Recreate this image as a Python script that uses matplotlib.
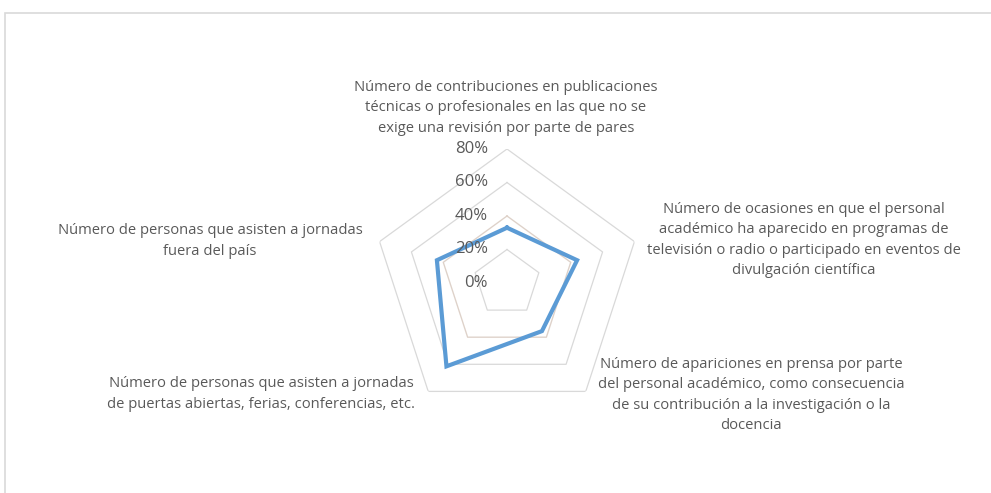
import matplotlib.pyplot as plt
import matplotlib.transforms as mtrans
import numpy as np

categorias = [
    "Número de contribuciones en publicaciones\ntécnicas o profesionales en las que no se\nexige una revisión por parte de pares",
    "Número de ocasiones en que el personal\nacadémico ha aparecido en programas de\ntelevisión o radio o participado en eventos de\ndivulgación científica",
    "Número de apariciones en prensa por parte\ndel personal académico, como consecuencia\nde su contribución a la investigación o la\ndocencia",
    "Número de personas que asisten a jornadas\nde puertas abiertas, ferias, conferencias, etc.",
    "Número de personas que asisten a jornadas\nfuera del país",
]
serie1 = [0.33, 0.44, 0.355, 0.615, 0.44]
serie2 = [0.40, 0.40, 0.40, 0.40, 0.40]
niveles = [0.2, 0.4, 0.6, 0.8]
etiquetas_r = ["0%", "20%", "40%", "60%", "80%"]

gris = "#595959"
W, H = 991, 493
fig = plt.figure(figsize=(W / 100, H / 100), dpi=100)
fig.patch.set_facecolor("white")

# borde del área del gráfico (cortado a la derecha y abajo)
fig.add_artist(plt.Rectangle((5 / W, -0.1), 1.2, 1 - 13 / H + 0.1,
                             transform=fig.transFigure, fill=False,
                             edgecolor="#d9d9d9", lw=1.2))

cx, cy, R = 507, 283, 134
ax = fig.add_axes([(cx - R) / W, (H - cy - R) / H, 2 * R / W, 2 * R / H],
                  projection="polar")
ax.set_theta_zero_location("N")
ax.set_theta_direction(-1)
ang = np.linspace(0, 2 * np.pi, len(categorias), endpoint=False)
angc = np.append(ang, ang[0])

for n in niveles:
    ax.plot(angc, [n] * len(angc), color="#d9d9d9", lw=0.9, zorder=1)

ax.plot(angc, serie2 + serie2[:1], color="#f4b183", lw=1.0, alpha=0.18, zorder=2)
ax.plot(angc, serie1 + serie1[:1], color="#5b9bd5", lw=3.0,
        solid_joinstyle="miter", zorder=3)

ax.set_ylim(0, 0.8)
ax.grid(False)
ax.spines["polar"].set_visible(False)
ax.set_xticks([])
ax.set_yticks([])
ax.patch.set_alpha(0)

# etiquetas del eje radial, a la izquierda del eje vertical
desplaza = ax.transData + mtrans.ScaledTranslation(-19 / 100, 0, fig.dpi_scale_trans)
for i, t in enumerate(etiquetas_r):
    ax.text(0, i * 0.2, t, transform=desplaza, fontsize=12,
            family="Open Sans", color=gris, ha="right", va="center",
            zorder=4)

# etiquetas de categorías
pos = [(506, 108), (804, 240), (751, 395), (261, 394), (210, 241)]
for txt, (x, y) in zip(categorias, pos):
    fig.text(x / W, 1 - y / H, txt, fontsize=10.6, family="Open Sans",
             color=gris, ha="center", va="center", linespacing=1.5)

fig.savefig("out.png", dpi=100)
